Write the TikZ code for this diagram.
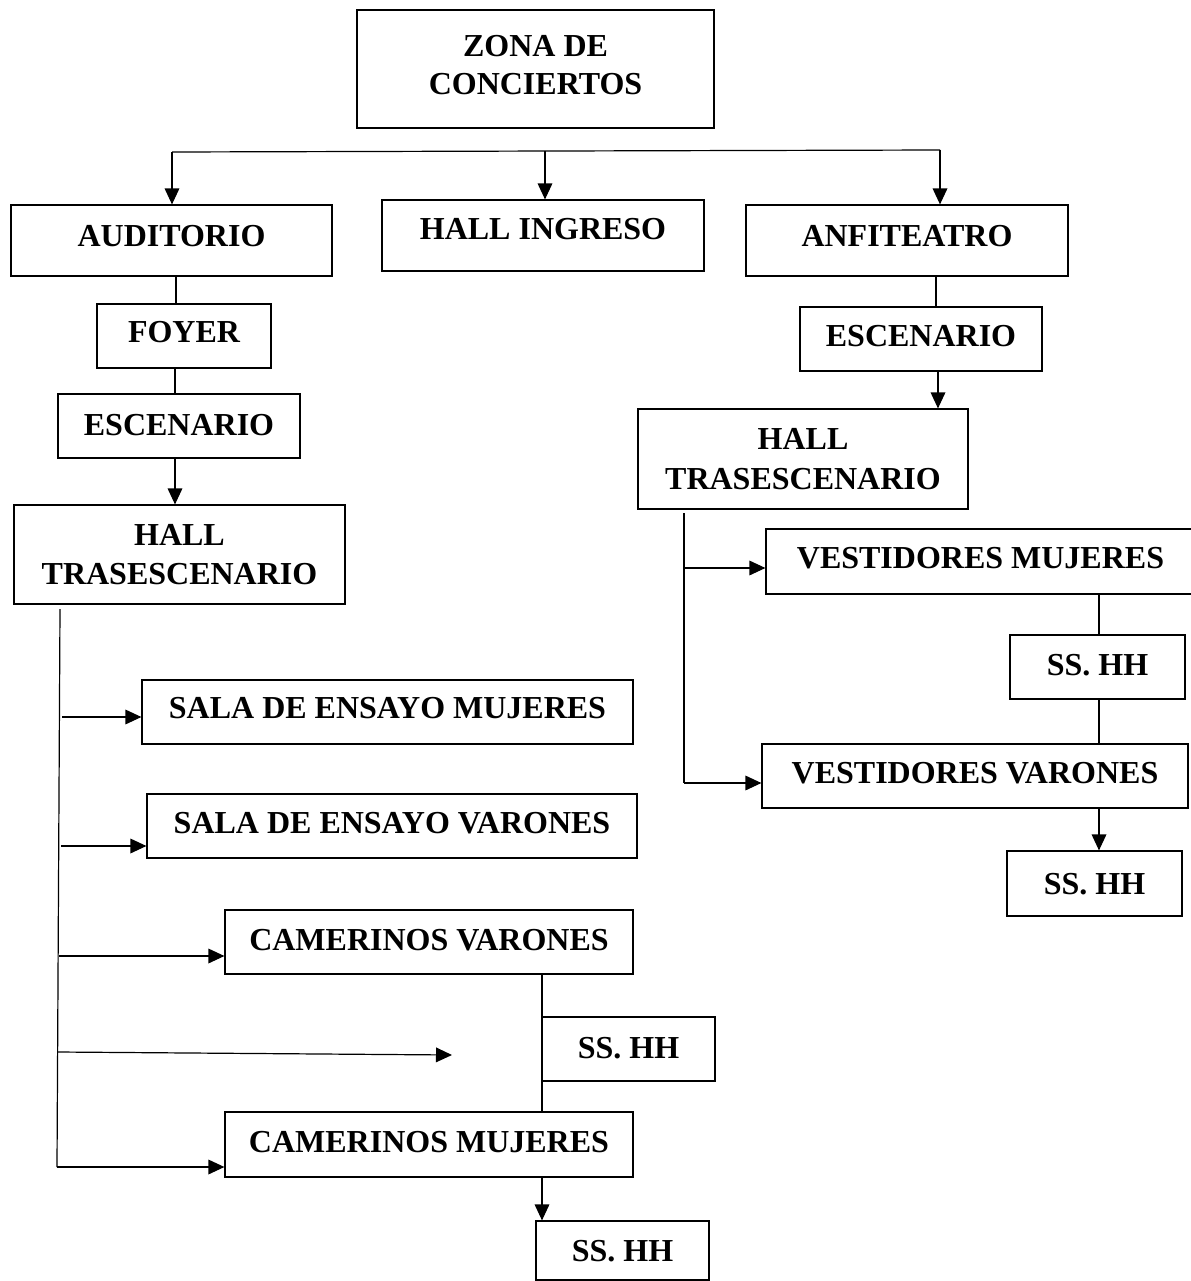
\documentclass[tikz,border=0pt]{standalone}
\usepackage{fontspec}
\setmainfont{Liberation Serif}
\usetikzlibrary{arrows.meta}
\begin{document}
\begin{tikzpicture}[x=0.75pt,y=-0.75pt,
  box/.style={draw,line width=0.9pt,inner sep=0pt,font=\fontsize{24pt}{29.5pt}\selectfont\bfseries},
  one/.style={text height=16pt,text depth=0pt},
  sz/.style 2 args={minimum width=#1*0.75pt,minimum height=#2*0.75pt},
  txtup/.style={text depth=#1*1.5pt},
  ln/.style={line width=0.9pt},
  arr/.style={ln,-{Triangle[length=12pt,width=11pt]}}]
\useasboundingbox (0,0) rectangle (1190,1281);
% boxes
\node[box,align=center,font=\fontsize{24pt}{28.5pt}\selectfont\bfseries,sz={357}{118}] (zona) at (535.5,69) {ZONA DE\\CONCIERTOS\\[-22.5pt]};
\node[box,one,txtup=4.5,sz={321}{71}] (aud) at (171.5,240.5) {AUDITORIO};
\node[box,one,txtup=6.5,sz={322}{71}] (hall) at (543,235.5) {HALL INGRESO};
\node[box,one,txtup=4.5,sz={322}{71}] (anf) at (907,240.5) {ANFITEATRO};
\node[box,one,txtup=4,sz={174}{64}] (foyer) at (184,336) {FOYER};
\node[box,one,txtup=1,sz={242}{64}] (escL) at (179,426) {ESCENARIO};
\node[box,align=center,sz={331}{99}] (htL) at (179.5,554.5) {HALL\\TRASESCENARIO};
\node[box,one,txtup=4,sz={491}{64}] (sem) at (387.5,712) {SALA DE ENSAYO MUJERES};
\node[box,one,txtup=3,sz={490}{64}] (sev) at (392,826) {SALA DE ENSAYO VARONES};
\node[box,one,txtup=2,sz={408}{64}] (cv) at (429,942) {CAMERINOS VARONES};
\node[box,one,txtup=1,sz={173}{64}] (ssm) at (628.5,1049) {SS. HH};
\node[box,one,txtup=2.5,sz={408}{65}] (cm) at (429,1144.5) {CAMERINOS MUJERES};
\node[box,one,sz={173}{59}] (ssb) at (622.5,1250.5) {SS. HH};
\node[box,one,txtup=3,sz={242}{64}] (escR) at (921,339) {ESCENARIO};
\node[box,align=center,sz={330}{100}] (htR) at (803,459) {HALL\\TRASESCENARIO};
\node[box,one,txtup=3.5,sz={429}{65}] (vm) at (980.5,561.5) {VESTIDORES MUJERES};
\node[box,one,txtup=2,sz={175}{64}] (ssr1) at (1097.5,667) {SS. HH};
\node[box,one,txtup=3,sz={426}{64}] (vv) at (975,776) {VESTIDORES VARONES};
\node[box,one,sz={175}{65}] (ssr2) at (1094.5,883.5) {SS. HH};
% top bar
\coordinate (barL) at (172,152);
\coordinate (barM) at (545,151);
\coordinate (barR) at (940,150);
\draw[ln] (barL) -- (barR);
\draw[arr] (barL) -- (barL |- aud.north);
\draw[arr] (barM) -- (barM |- hall.north);
\draw[arr] (barR) -- (barR |- anf.north);
% left column
\coordinate (vA) at (176,0);
\coordinate (vB) at (175,0);
\draw[ln] (aud.south -| vA) -- (foyer.north -| vA);
\draw[ln] (foyer.south -| vB) -- (escL.north -| vB);
\draw[arr] (escL.south -| vB) -- (htL.north -| vB);
\coordinate (tL1) at (60,609);
\coordinate (tL2) at (57,1167);
\draw[ln] (tL1) -- (tL2);
\coordinate (a1) at (62,717);
\coordinate (a2) at (61,846);
\coordinate (a3) at (59,956);
\coordinate (a4) at (58,1052);
\coordinate (free) at (452,1055);
\draw[arr] (a1) -- (a1 -| sem.west);
\draw[arr] (a2) -- (a2 -| sev.west);
\draw[arr] (a3) -- (a3 -| cv.west);
\draw[arr] (a4) -- (free);
\draw[arr] (tL2) -- (tL2 -| cm.west);
\coordinate (vC) at (542,0);
\draw[ln] (cv.south -| vC) -- (cm.north -| vC);
\draw[arr] (cm.south -| vC) -- (ssb.north -| vC);
% right column
\coordinate (vD) at (936,0);
\coordinate (vE) at (938,0);
\draw[ln] (anf.south -| vD) -- (escR.north -| vD);
\draw[arr] (escR.south -| vE) -- (htR.north -| vE);
\coordinate (tR1) at (684,513);
\coordinate (tR2) at (684,783);
\draw[ln] (tR1) -- (tR2);
\coordinate (b1) at (684,568);
\draw[arr] (b1) -- (b1 -| vm.west);
\draw[arr] (tR2) -- (tR2 -| vv.west);
\coordinate (vF) at (1099,0);
\draw[ln] (vm.south -| vF) -- (ssr1.north -| vF);
\draw[ln] (ssr1.south -| vF) -- (vv.north -| vF);
\draw[arr] (vv.south -| vF) -- (ssr2.north -| vF);
\end{tikzpicture}
\end{document}
